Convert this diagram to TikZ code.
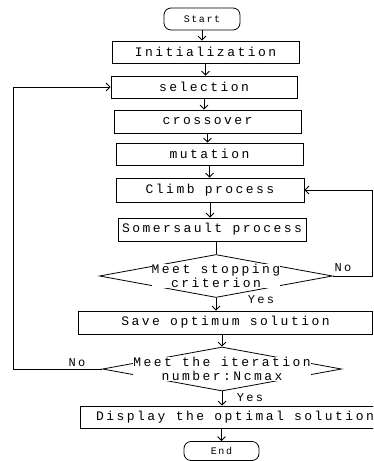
\documentclass[tikz,border=0pt]{standalone}
\usepackage{fontspec}
\usetikzlibrary{arrows.meta, shapes.geometric}
\newfontfamily\flowfont{Liberation Mono}[LetterSpace=19]
\newfontfamily\termfont{Liberation Mono}[LetterSpace=16]

\tikzset{
  stepbox/.style={draw, line width=0.8pt, minimum height=22pt, inner sep=0pt,
    font=\flowfont\fontsize{13}{14}\selectfont},
  termbox/.style={stepbox, rounded corners=7pt, font=\termfont\fontsize{10}{11}\selectfont},
  decision/.style={draw, diamond, line width=0.8pt, inner sep=0pt},
  decisiontext/.style={fill=white, inner sep=0pt, align=center,
    font=\flowfont\fontsize{13}{14}\selectfont},
  flow/.style={line width=0.8pt, -{Straight Barb[length=4pt, width=8pt]}},
  answer/.style={font=\flowfont\fontsize{12}{13}\selectfont},
}

\begin{document}
\begin{tikzpicture}[x=1pt, y=-1pt]
  \useasboundingbox (0,0) rectangle (373,461);
  \clip (0,0) rectangle (373,461);

  \node[termbox, minimum width=76pt] (start) at (202,19) {Start};
  \node[stepbox, minimum width=187pt] (init) at (205.5,52) {Initialization};
  \node[stepbox, minimum width=186pt] (sel) at (204,87) {selection};
  \node[stepbox, minimum width=187pt, minimum height=23pt] (cross) at (207.5,121.5) {crossover};
  \node[stepbox, minimum width=187pt] (mut) at (209.5,154) {mutation};
  \node[stepbox, minimum width=188pt, minimum height=24pt] (climb) at (210,190) {Climb process};
  \node[stepbox, minimum width=188pt, minimum height=23pt] (som) at (212,229.5) {Somersault process};
  \node[decision, minimum width=233pt, minimum height=43pt] (stop) at (216,276) {};
  \node[decisiontext] (stoptext) at (stop) {Meet stopping\\criterion};
  \node[stepbox, minimum width=294pt, minimum height=23pt] (save) at (225.5,322.5) {Save optimum solution};
  \node[decision, minimum width=239pt, minimum height=44pt] (iter) at (222,369) {};
  \node[decisiontext] (itertext) at (iter) {Meet the iteration\\number:Ncmax};
  \node[stepbox, minimum width=310pt] (show) at (235,417) {Display the optimal solution};
  \node[termbox, minimum width=75pt, minimum height=19pt] (finish) at (221.5,451) {End};

  \coordinate (rightrail) at (372,0);
  \coordinate (leftrail) at (13,0);

  \foreach \a/\b in {start/init, init/sel, sel/cross, cross/mut, mut/climb, climb/som}
    \draw[flow] (\a.south) -- (\a.south |- \b.north);
  \draw[line width=0.8pt] (stop.north |- som.south) -- (stop.north);
  \draw[flow] (stop.south) -- (stop.south |- save.north);
  \draw[flow] (iter.north |- save.south) -- (iter.north);
  \draw[flow] (iter.south) -- (iter.south |- show.north);
  \draw[flow] (finish.north |- show.south) -- (finish.north);

  \draw[flow] (stop.east) -- (stop.east -| rightrail) |- (climb.east);
  \draw[flow] (iter.west) -- (iter.west -| leftrail) |- (sel.west);

  \node[answer] (nostop) at (343,268) {No};
  \node[answer] (yesstop) at (261,300) {Yes};
  \node[answer] (noiter) at (77,363) {No};
  \node[answer] (yesiter) at (250,398) {Yes};
\end{tikzpicture}
\end{document}
